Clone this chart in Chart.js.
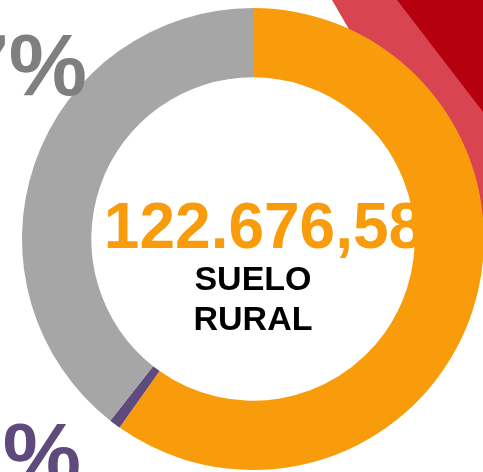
<!DOCTYPE html>
<html>
<head>
<meta charset="utf-8">
<script src="https://cdn.jsdelivr.net/npm/chart.js@4/dist/chart.umd.min.js"></script>
<style>
  html, body { margin: 0; padding: 0; background: #fff; overflow: hidden; }
  #wrap { position: relative; width: 500px; height: 472px; }
</style>
</head>
<body>
<div id="wrap"><canvas id="chart" width="500" height="472"></canvas></div>
<script>
// datos del anillo (porcentaje del total)
const categories = ["Suelo rural", "Otros", "Suelo urbano"];
const values = [59.8, 0.8, 39.4];
const colors = ["#F89C0B", "#5E4A7D", "#A6A6A6"];
const pctLabels = ["", "1%", "37%"];
const centerValue = "122.676,58";
const centerTitle = ["SUELO", "RURAL"];

const FONT = "'Liberation Sans', Arial, sans-serif";

// fondo: bandas rojas arriba a la derecha
const bgShapes = {
  id: "bgShapes",
  beforeDraw(chart) {
    const c = chart.ctx;
    c.save();
    c.fillStyle = "#D84450";
    c.beginPath();
    c.moveTo(332, 0); c.lineTo(500, 0); c.lineTo(500, 290); c.closePath();
    c.fill();
    c.fillStyle = "#B5000F";
    c.beginPath();
    c.moveTo(397, 0); c.lineTo(500, 0); c.lineTo(500, 134); c.closePath();
    c.fill();
    c.restore();
  }
};

// numero central, queda por debajo del anillo
const centerText = {
  id: "centerText",
  beforeDatasetsDraw(chart) {
    const c = chart.ctx;
    const meta = chart.getDatasetMeta(0).data[0];
    const x = meta.x, y = meta.y;
    c.save();
    c.textAlign = "center";
    c.textBaseline = "alphabetic";
    c.fillStyle = "#F89C0B";
    c.font = "bold 64px " + FONT;
    c.fillText(centerValue, x + 11, y + 9);
    c.fillStyle = "#000";
    c.font = "bold 34px " + FONT;
    c.fillText(centerTitle[0], x, y + 51);
    c.fillText(centerTitle[1], x, y + 91);
    c.restore();
  },
  afterDatasetsDraw(chart) {
    const c = chart.ctx;
    c.save();
    c.textAlign = "right";
    c.textBaseline = "alphabetic";
    c.font = "bold 88px " + FONT;
    c.fillStyle = "#7F7F7F";
    c.fillText(pctLabels[2], 87, 95);
    c.fillStyle = colors[1];
    c.fillText(pctLabels[1], 81, 484);
    c.restore();
  }
};

new Chart(document.getElementById("chart").getContext("2d"), {
  type: "doughnut",
  data: {
    labels: categories,
    datasets: [{
      data: values,
      backgroundColor: colors,
      borderWidth: 0
    }]
  },
  options: {
    responsive: false,
    animation: false,
    cutout: "70%",
    layout: { padding: { left: 22, right: 16, top: 8, bottom: 2 } },
    plugins: {
      legend: { display: false },
      tooltip: { enabled: false }
    }
  },
  plugins: [bgShapes, centerText]
});
</script>
</body>
</html>
